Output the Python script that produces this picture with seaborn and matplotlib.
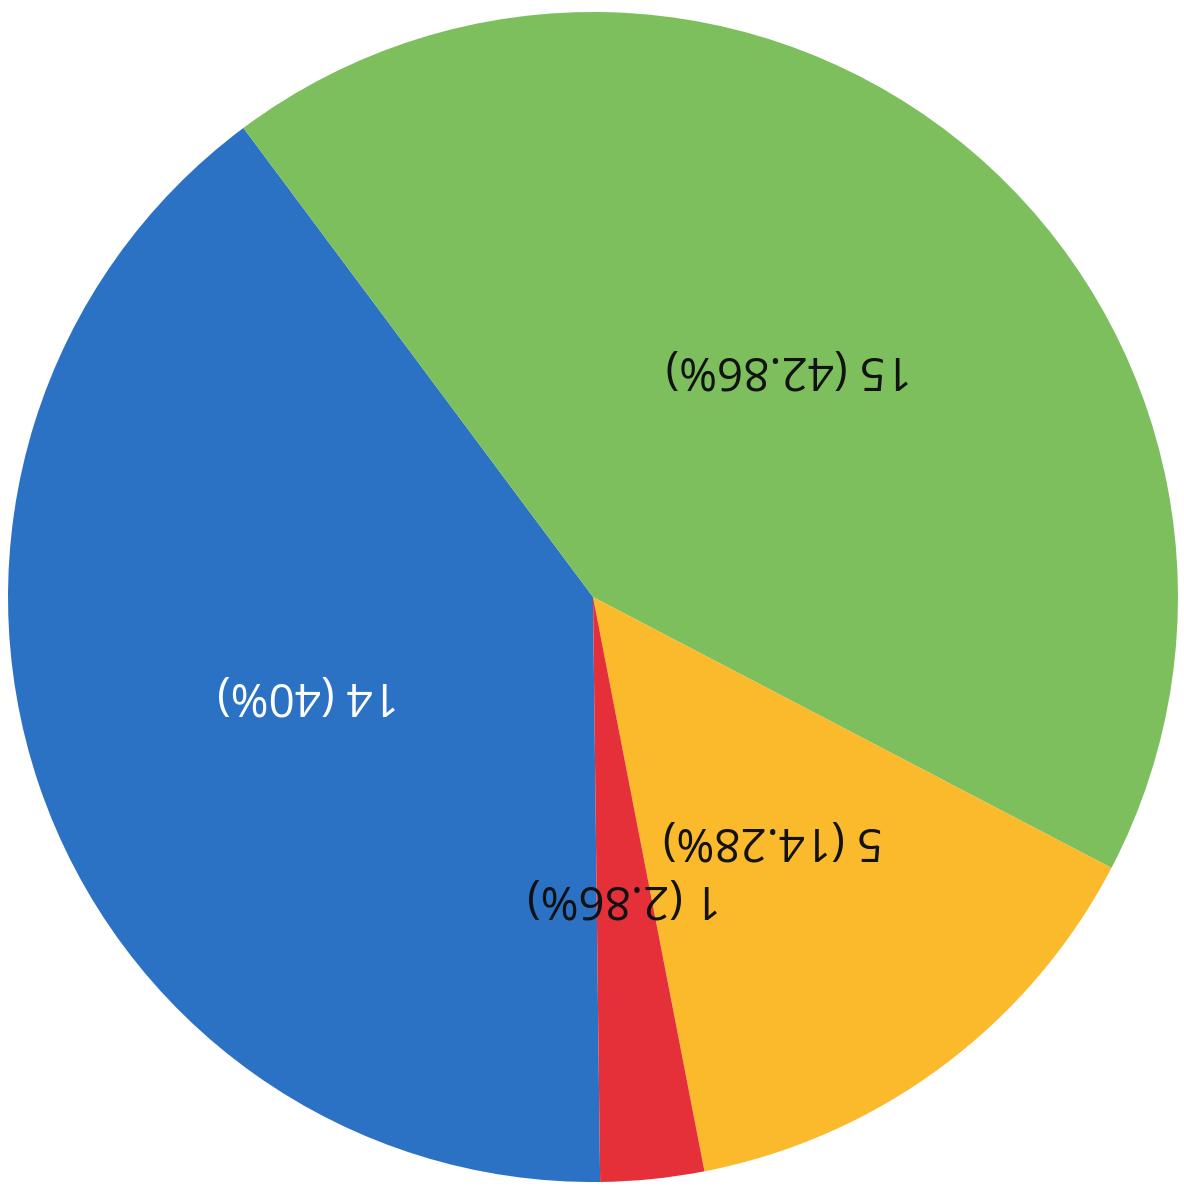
import matplotlib.pyplot as plt
import numpy as np
import seaborn as sns

# slice data (clockwise from the bottom, chart is printed upside down)
counts = [14, 15, 5, 1]
pct_labels = ["14 (40%)", "15 (42.86%)", "5 (14.28%)", "1 (2.86%)"]
colors = ["#2b72c4", "#7cbf5c", "#fbb92c", "#e5303a"]
text_colors = ["white", "#111111", "#111111", "#111111"]

sns.set_theme(style="white")
plt.rcParams["font.family"] = ["Open Sans", "DejaVu Sans"]

fig = plt.figure(figsize=(11.84, 11.86), dpi=100)
ax = fig.add_axes([0, 0, 1, 1])

wedges, _ = ax.pie(
    counts,
    colors=colors,
    startangle=-89.3,
    counterclock=False,
    radius=1.0,
    wedgeprops={"linewidth": 0},
)

# labels sit at half the radius, rotated 180 degrees like the source
for wedge, text, tcolor in zip(wedges, pct_labels, text_colors):
    mid = np.deg2rad((wedge.theta1 + wedge.theta2) / 2)
    ax.text(
        0.515 * np.cos(mid),
        0.515 * np.sin(mid),
        text,
        rotation=180,
        ha="center",
        va="center",
        fontsize=33,
        color=tcolor,
    )

ax.set_aspect("auto")
ax.set_xlim(-1.0137, 1.0103)
ax.set_ylim(-1.0068, 1.0205)
ax.axis("off")

fig.savefig("out.png", dpi=100, facecolor="white")
plt.close(fig)
